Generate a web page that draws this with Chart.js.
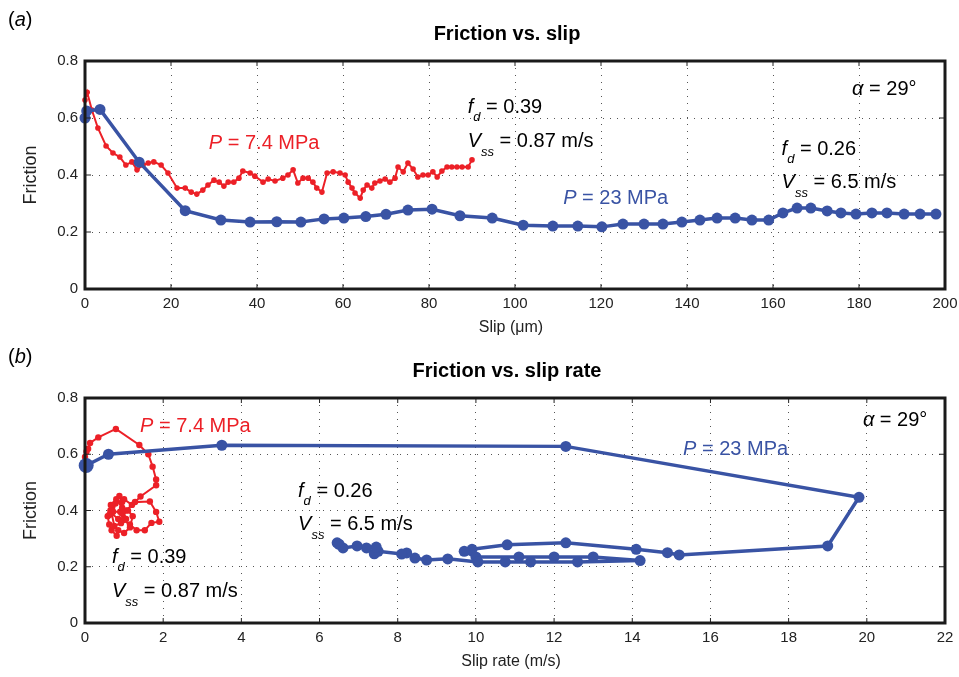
<!DOCTYPE html>
<html>
<head>
<meta charset="utf-8">
<script src="https://cdn.jsdelivr.net/npm/chart.js@4.4.1/dist/chart.umd.min.js"></script>
<style>
  body { margin: 0; background: #fff; }
  #wrapA { position: absolute; left: 0; top: 0; width: 959px; height: 340px; }
  #wrapB { position: absolute; left: 0; top: 340px; width: 959px; height: 337px; }
</style>
</head>
<body>
<div id="wrapA"><canvas id="chartA" width="959" height="340"></canvas></div>
<div id="wrapB"><canvas id="chartB" width="959" height="337"></canvas></div>
<script>
// ---- data: panel (a) friction vs slip (um) ----
const slipBlue = [[0,0.60],[0.4,0.625],[3.5,0.63],[12.6,0.445],[23.3,0.275],[31.6,0.242],[38.4,0.235],[44.6,0.236],
  [50.2,0.235],[55.6,0.246],[60.2,0.249],[65.3,0.254],[70,0.262],[75.1,0.277],[80.7,0.28],[87.2,0.257],
  [94.7,0.249],[101.9,0.224],[108.8,0.221],[114.6,0.221],[120.2,0.218],[125.1,0.228],[130,0.228],[134.4,0.228],
  [138.8,0.235],[143,0.242],[147,0.249],[151.2,0.249],[155.1,0.242],[159,0.242],[162.3,0.267],[165.6,0.284],
  [168.8,0.284],[172.6,0.274],[175.8,0.267],[179.3,0.263],[183,0.267],[186.5,0.267],[190.5,0.263],[194.2,0.263],[197.9,0.263]];

const slipRed = [[0,0.663],[0.5,0.69],[1.6,0.628],[3,0.565],[4.9,0.502],[6.5,0.477],[8.1,0.463],[9.5,0.435],
  [10.9,0.446],[12.1,0.418],[13.5,0.435],[14.7,0.442],[16,0.446],[17.7,0.435],[19.3,0.407],[21.4,0.354],
  [23.3,0.354],[24.7,0.34],[26,0.333],[27.4,0.347],[28.6,0.365],[30,0.382],[31.2,0.375],[32.3,0.361],
  [33.3,0.375],[34.6,0.375],[35.8,0.389],[36.7,0.414],[38.4,0.407],[39.5,0.396],[41.4,0.375],[42.6,0.386],
  [44.2,0.379],[46,0.389],[47.2,0.40],[48.4,0.418],[49.5,0.372],[50.7,0.389],[51.9,0.389],[53,0.375],
  [53.9,0.354],[55.1,0.34],[56.3,0.407],[57.7,0.411],[59.3,0.407],[60.5,0.40],[61.2,0.375],[62.1,0.354],
  [62.8,0.337],[64,0.319],[64.7,0.347],[65.6,0.365],[66.7,0.354],[67.4,0.372],[68.6,0.379],[69.8,0.386],
  [70.9,0.375],[72.1,0.389],[72.8,0.428],[74,0.411],[75.1,0.442],[76.3,0.421],[77.4,0.393],[78.6,0.40],
  [79.8,0.40],[80.9,0.411],[81.9,0.393],[83,0.414],[84.2,0.428],[85.3,0.428],[86.5,0.428],[87.7,0.428],
  [89.1,0.428],[90,0.453]];

// ---- data: panel (b) friction vs slip rate (m/s) ----
const rateBlue = [[0.03,0.56],[0.6,0.60],[3.5,0.632],[12.3,0.628],[19.8,0.447],[19.0,0.274],[15.2,0.242],
  [14.9,0.25],[14.1,0.262],[12.3,0.285],[10.8,0.278],[9.9,0.262],[9.7,0.255],[10.0,0.235],[11.1,0.235],
  [12.0,0.235],[13.0,0.235],[14.2,0.222],[12.6,0.217],[11.4,0.217],[10.75,0.217],[10.05,0.217],[9.28,0.228],
  [8.74,0.224],[8.44,0.231],[8.23,0.249],[8.1,0.245],[7.5,0.255],[7.4,0.246],[7.45,0.27],[7.2,0.267],
  [6.96,0.274],[6.6,0.267],[6.5,0.28],[6.45,0.285]];

const rateRed = [[0,0.59],[0.04,0.61],[0.08,0.62],[0.13,0.64],[0.34,0.66],[0.79,0.69],[1.39,0.633],[1.62,0.60],
  [1.73,0.556],[1.82,0.51],[1.82,0.49],[1.42,0.45],[1.28,0.43],[1.66,0.432],[1.82,0.395],[1.90,0.36],
  [1.70,0.356],[1.53,0.33],[1.32,0.33],[1.15,0.35],[0.98,0.366],[0.90,0.396],[0.72,0.396],[0.62,0.384],
  [0.70,0.413],[0.88,0.452],[0.95,0.43],[0.94,0.39],[1.10,0.40],[1.22,0.38],[1.15,0.34],[1.0,0.32],
  [0.85,0.33],[0.81,0.31],[0.68,0.33],[0.62,0.35],[0.58,0.38],[0.66,0.42],[0.80,0.44],[0.95,0.41],
  [1.05,0.37],[0.85,0.37],[0.68,0.39],[0.75,0.345],[0.92,0.355],[1.05,0.40],[1.2,0.42],[1.0,0.44],
  [0.78,0.425],[0.65,0.40]];

const frictionTicks = [0, 0.2, 0.4, 0.6, 0.8];
const slipTicks = [0, 20, 40, 60, 80, 100, 120, 140, 160, 180, 200];
const rateTicks = [0, 2, 4, 6, 8, 10, 12, 14, 16, 18, 20, 22];

const BLUE = '#3953a4';
const RED = '#ec2027';
const FONT = '"Liberation Sans", Helvetica, Arial, sans-serif';

function toPts(arr) { return arr.map(p => ({x: p[0], y: p[1]})); }

// text with italic symbols and subscripts, drawn left to right
function drawRich(ctx, x, y, parts, color) {
  ctx.textAlign = 'left';
  ctx.textBaseline = 'alphabetic';
  ctx.fillStyle = color || '#000';
  parts.forEach(p => {
    ctx.font = p[1];
    ctx.fillText(p[0], x, y + (p[2] || 0));
    x += ctx.measureText(p[0]).width;
  });
}
const it = 'italic 20px ' + FONT;
const rg = '20px ' + FONT;
const sub = 'italic 13px ' + FONT;
const fd = v => [['f', it], ['d', sub, 8], [' = ' + v, rg]];
const vss = v => [['V', it], ['ss', sub, 9], [' = ' + v, rg]];
const pLab = v => [['P', it], [' = ' + v, rg]];
const alpha = [['\u03b1', it], [' = 29\u00b0', rg]];

function decor(panel, title, xTitle, notes) {
  return {
    id: 'decor' + panel,
    afterDraw(chart) {
      const ctx = chart.ctx, a = chart.chartArea;
      const xs = chart.scales.x, ys = chart.scales.y;
      ctx.save();
      // inward ticks
      ctx.strokeStyle = '#222'; ctx.lineWidth = 1;
      ctx.beginPath();
      xs.ticks.forEach(t => {
        const px = xs.getPixelForValue(t.value);
        ctx.moveTo(px, a.bottom); ctx.lineTo(px, a.bottom - 5);
        ctx.moveTo(px, a.top); ctx.lineTo(px, a.top + 5);
      });
      ys.ticks.forEach(t => {
        const py = ys.getPixelForValue(t.value);
        ctx.moveTo(a.left, py); ctx.lineTo(a.left + 6, py);
        ctx.moveTo(a.right, py); ctx.lineTo(a.right - 6, py);
      });
      ctx.stroke();
      // frame
      ctx.strokeStyle = '#1a1a1a'; ctx.lineWidth = 3;
      ctx.strokeRect(a.left, a.top, a.right - a.left, a.bottom - a.top);
      // panel letter
      drawRich(ctx, 8, panel === 'a' ? 26 : 23, [['(', rg], [panel, it], [')', rg]]);
      // title
      ctx.font = 'bold 20px ' + FONT;
      ctx.textAlign = 'center'; ctx.textBaseline = 'middle'; ctx.fillStyle = '#000';
      ctx.fillText(title, (a.left + a.right) / 2 - 8, a.top - 27);
      // axis titles
      ctx.font = '16px ' + FONT;
      ctx.fillStyle = '#222';
      ctx.fillText(xTitle, (a.left + a.right) / 2 - 4, a.bottom + 39);
      ctx.save();
      ctx.translate(31, (a.top + a.bottom) / 2);
      ctx.rotate(-Math.PI / 2);
      ctx.font = '18px ' + FONT;
      ctx.fillText('Friction', 0, 0);
      ctx.restore();
      // annotations placed in data coordinates
      notes.forEach(n => {
        drawRich(ctx, xs.getPixelForValue(n.x), ys.getPixelForValue(n.y), n.parts, n.color);
      });
      ctx.restore();
    }
  };
}

function makeChart(id, blue, red, xMax, xTicks, xHeight, top, blueR, redR, plugin) {
  return new Chart(document.getElementById(id), {
    type: 'scatter',
    data: {
      datasets: [
        { data: toPts(blue), showLine: true, borderColor: BLUE, backgroundColor: BLUE,
          borderWidth: 3.5, pointRadius: blueR, pointBorderWidth: 0, clip: false },
        { data: toPts(red), showLine: true, borderColor: RED, backgroundColor: RED,
          borderWidth: 2, pointRadius: redR, pointBorderWidth: 0, clip: false }
      ]
    },
    options: {
      responsive: false,
      animation: false,
      layout: { padding: { top: top, right: 14, bottom: 0, left: 0 } },
      plugins: { legend: { display: false }, tooltip: { enabled: false } },
      scales: {
        x: {
          type: 'linear', min: 0, max: xMax,
          afterFit: s => { s.height = xHeight; s.paddingLeft = 0; s.paddingRight = 0; },
          afterBuildTicks: s => { s.ticks = xTicks.map(v => ({value: v})); },
          ticks: { font: { family: FONT, size: 15 }, color: '#222', padding: 6 },
          grid: { color: '#555', lineWidth: 1, drawTicks: false },
          border: { display: false, dash: [1, 6] }
        },
        y: {
          type: 'linear', min: 0, max: 0.8,
          afterFit: s => { s.width = 85; s.paddingTop = 0; s.paddingBottom = 0; },
          afterBuildTicks: s => { s.ticks = frictionTicks.map(v => ({value: v})); },
          ticks: { font: { family: FONT, size: 15 }, color: '#222', padding: 7,
                   callback: v => String(v) },
          grid: { color: '#555', lineWidth: 1, drawTicks: false },
          border: { display: false, dash: [1, 6] }
        }
      }
    },
    plugins: [plugin]
  });
}

makeChart('chartA', slipBlue, slipRed, 200, slipTicks, 51, 61, 5.5, 2.8,
  decor('a', 'Friction vs. slip', 'Slip (\u03bcm)', [
    { x: 28.8, y: 0.49, parts: pLab('7.4 MPa'), color: RED },
    { x: 111.2, y: 0.30, parts: pLab('23 MPa'), color: BLUE },
    { x: 89, y: 0.617, parts: fd('0.39') },
    { x: 89, y: 0.498, parts: vss('0.87 m/s') },
    { x: 162, y: 0.47, parts: fd('0.26') },
    { x: 162, y: 0.354, parts: vss('6.5 m/s') },
    { x: 178.4, y: 0.68, parts: alpha }
  ]));

makeChart('chartB', rateBlue, rateRed, 22, rateTicks, 54, 58,
  c => c.dataIndex === 0 ? 7.5 : 5.5, 3.2,
  decor('b', 'Friction vs. slip rate', 'Slip rate (m/s)', [
    { x: 1.41, y: 0.68, parts: pLab('7.4 MPa'), color: RED },
    { x: 15.3, y: 0.598, parts: pLab('23 MPa'), color: BLUE },
    { x: 5.45, y: 0.448, parts: fd('0.26') },
    { x: 5.45, y: 0.331, parts: vss('6.5 m/s') },
    { x: 0.69, y: 0.214, parts: fd('0.39') },
    { x: 0.69, y: 0.093, parts: vss('0.87 m/s') },
    { x: 19.9, y: 0.70, parts: alpha }
  ]));
</script>
</body>
</html>
